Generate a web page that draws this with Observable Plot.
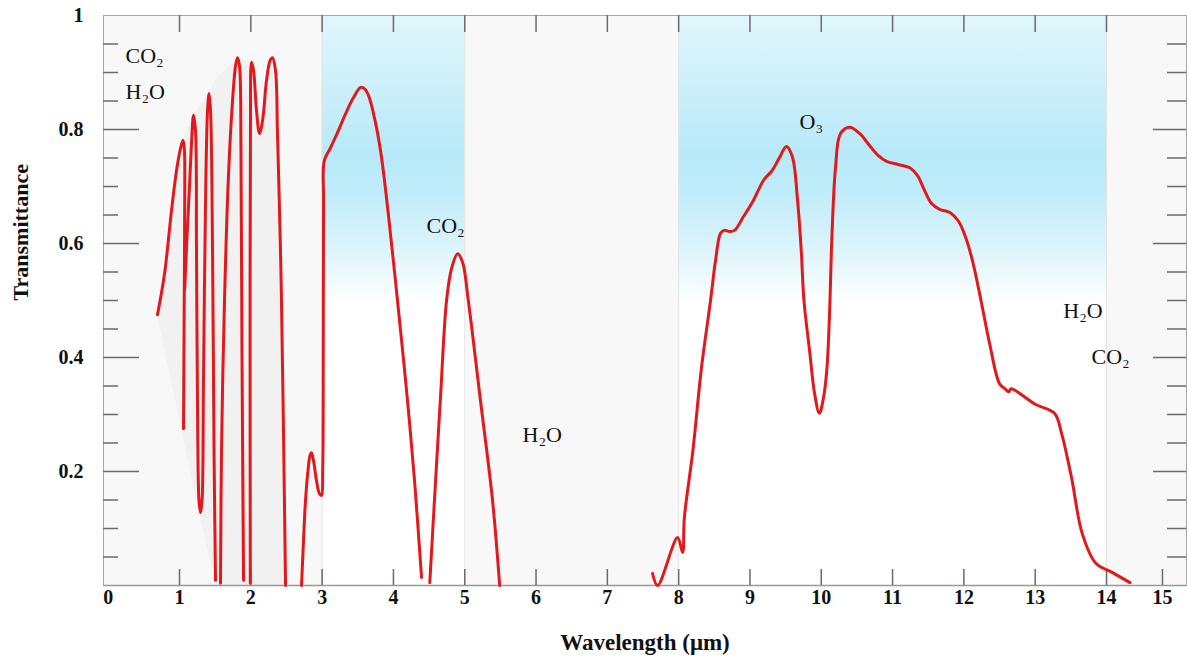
<!DOCTYPE html>
<html><head><meta charset="utf-8">
<script src="https://cdn.jsdelivr.net/npm/d3@7"></script>
<script src="https://cdn.jsdelivr.net/npm/@observablehq/plot@0.6"></script>
<style>body{margin:0;background:#fff}</style>
</head><body><div id="chart"></div>
<script>
// ---- data: transmittance curve segments [wavelength µm, transmittance] ----
const segA = [[0.691,0.475],[0.79,0.547],[0.888,0.658],[0.958,0.728],[1.014,0.767],[1.049,0.781],[1.068,0.765],[1.074,0.70],[1.066,0.5],[1.056,0.275]];
const segB = [[1.073,0.52],[1.108,0.62],[1.14,0.70],[1.17,0.78],[1.196,0.825],[1.224,0.798],[1.238,0.588],[1.252,0.325],[1.273,0.149],[1.294,0.128],[1.316,0.149],[1.336,0.36],[1.365,0.675],[1.393,0.833],[1.414,0.863],[1.435,0.833],[1.463,0.588],[1.484,0.237],[1.505,0.009]];
const segC = [[1.575,0.004],[1.589,0.237],[1.631,0.5],[1.688,0.723],[1.744,0.851],[1.786,0.912],[1.813,0.926],[1.841,0.912],[1.862,0.763],[1.876,0.412],[1.898,0.009]];
const segD = [[1.993,0.004],[1.99,0.4],[1.995,0.8],[2.01,0.918],[2.038,0.904],[2.08,0.833],[2.122,0.793],[2.165,0.816],[2.22,0.886],[2.27,0.921],[2.304,0.926],[2.346,0.904],[2.374,0.793],[2.416,0.588],[2.43,0.5],[2.458,0.272],[2.487,0.0]];
const segE = [[2.711,0],[2.739,0.079],[2.767,0.149],[2.802,0.202],[2.83,0.228],[2.851,0.233],[2.879,0.219],[2.921,0.184],[2.963,0.161],[2.992,0.158],[3.008,0.2],[3.016,0.412],[3.02,0.675],[3.03,0.745],[3.118,0.768],[3.21,0.793],[3.33,0.828],[3.44,0.856],[3.54,0.874],[3.6,0.871],[3.65,0.86],[3.721,0.828],[3.819,0.763],[3.931,0.649],[4.057,0.5],[4.184,0.342],[4.296,0.184],[4.394,0.014]];
const segF = [[4.51,0.005],[4.575,0.149],[4.66,0.33],[4.745,0.5],[4.815,0.556],[4.9,0.582],[4.97,0.567],[5.05,0.5],[5.22,0.325],[5.39,0.149],[5.49,0.0]];
const segG = [[7.634,0.021],[7.704,0.0],[7.985,0.084],[8.055,0.058],[8.08,0.119],[8.2,0.237],[8.32,0.382],[8.447,0.5],[8.517,0.57],[8.587,0.618],[8.638,0.623],[8.714,0.621],[8.784,0.623],[8.903,0.646],[9.046,0.675],[9.191,0.711],[9.311,0.728],[9.407,0.749],[9.513,0.77],[9.597,0.751],[9.668,0.675],[9.719,0.588],[9.757,0.5],[9.836,0.412],[9.906,0.337],[9.973,0.302],[10.032,0.33],[10.08,0.382],[10.114,0.47],[10.151,0.618],[10.2,0.733],[10.27,0.793],[10.4,0.804],[10.537,0.793],[10.677,0.772],[10.8,0.754],[10.916,0.744],[11.065,0.739],[11.252,0.732],[11.35,0.719],[11.449,0.693],[11.547,0.67],[11.66,0.66],[11.81,0.654],[11.925,0.639],[12.024,0.611],[12.12,0.57],[12.24,0.5],[12.36,0.425],[12.5,0.354],[12.57,0.346],[12.63,0.34],[12.66,0.345],[13.0,0.318],[13.27,0.302],[13.37,0.267],[13.51,0.189],[13.66,0.091],[13.85,0.039],[14.1,0.023],[14.42,0.005]];

// light grey shaded envelope at the left [wavelength, low, high]
const shade = [[0.691,0.475,0.475],[1.049,0.264,0.781],[1.196,0.176,0.825],[1.414,0.053,0.863],[1.53,0,0.89],[1.813,0,0.926],[2.01,0,0.918],[2.122,0,0.793],[2.304,0,0.926],[2.346,0,0.904],[2.43,0,0.5],[2.487,0,0]];

// atmospheric windows (blue bands)
const windowBands = [[3,5],[8,14]];
const bandEdges = [3,5,8,14];

// absorber annotations
const gasLabels = [
  {x:0.243, t:0.929, text:"CO₂"},
  {x:0.243, t:0.865, text:"H₂O"},
  {x:4.464, t:0.630, text:"CO₂"},
  {x:5.811, t:0.264, text:"H₂O"},
  {x:9.696, t:0.813, text:"O₃"},
  {x:13.394, t:0.482, text:"H₂O"},
  {x:13.79, t:0.401, text:"CO₂"}
];

// ticks
const xTickLabels = [0,1,2,3,4,5,6,7,8,9,10,11,12,13,14,15];
const topTicks = [1,2,3,4,5,6,7,8,9,10,11,12,13,14];
const bottomTicks = [1,2,3,4,5,6,7,8,9,10,11,12,13,14,15];
const yTickLabels = [0.2,0.4,0.6,0.8,1];
const yMajor = [0.2,0.4,0.6,0.8];
const yMinor = [0.05,0.1,0.15,0.25,0.3,0.35,0.45,0.5,0.55,0.65,0.7,0.75,0.85,0.9,0.95];

const segments = [segA, segB, segC, segD, segE, segF, segG];
const lineData = segments.flatMap((s, i) => s.map(([x, t]) => ({x, t, seg: i})));

const W = 1187, H = 664, mL = 103, mR = 1, mT = 15, mB = 79;
const fw = W - mL - mR, fh = H - mT - mB;

// the original axis is compressed beyond 14 µm
const compressAbove14 = d => d <= 14 ? d : 14 + (d - 14) * 0.785;

const gradStops = [[0,"#e0f6fc"],[0.12,"#cdf0fa"],[0.24,"#b8e9f8"],[0.3,"#bdebf9"],[0.4,"#d9f3fb"],[0.46,"#eefafd"],[0.5,"#fcfeff"],[0.52,"#ffffff"],[1,"#ffffff"]];
function gradientDefs() {
  const defs = d3.create("svg:defs");
  const g = defs.append("linearGradient").attr("id","bandGrad")
    .attr("x1",0).attr("y1",0).attr("x2",0).attr("y2",1);
  gradStops.forEach(([o,c]) => g.append("stop").attr("offset", o).attr("stop-color", c));
  return defs.node();
}

const serif = "'Liberation Serif','Times New Roman','DejaVu Serif',serif";
const tickColor = "#6a6a6a";

const chart = Plot.plot({
  width: W, height: H,
  marginLeft: mL, marginRight: mR, marginTop: mT, marginBottom: mB,
  style: {fontFamily: serif, background: "#fff"},
  x: {type: "linear", transform: compressAbove14, domain: [-0.066, 15.122], axis: null},
  y: {domain: [0, 1], axis: null},
  marks: [
    gradientDefs,
    Plot.frame({fill: "#f8f8f8", stroke: null}),
    Plot.rect(windowBands, {x1: d => d[0], x2: d => d[1], y1: 0, y2: 1, fill: "url(#bandGrad)"}),
    Plot.ruleX(bandEdges, {x: d => d, stroke: "#e4e4e4", strokeWidth: 1}),
    Plot.areaY(shade, {x: d => d[0], y1: d => d[1], y2: d => d[2], fill: "#f1f1f1"}),
    Plot.frame({stroke: "#a8a8a8", strokeWidth: 1}),
    Plot.ruleY([0], {stroke: "#999", strokeWidth: 1.5}),
    Plot.tickX(topTicks, {x: d => d, insetBottom: fh - 17, stroke: tickColor, strokeWidth: 1.5}),
    Plot.tickX(bottomTicks, {x: d => d, insetTop: fh - 16, stroke: tickColor, strokeWidth: 1.5}),
    Plot.tickY(yMajor, {y: d => d, insetRight: fw - 36, stroke: tickColor, strokeWidth: 1.5}),
    Plot.tickY(yMinor, {y: d => d, insetRight: fw - 15, stroke: tickColor, strokeWidth: 1.5}),
    Plot.tickY(yMajor, {y: d => d, insetLeft: fw - 33, stroke: tickColor, strokeWidth: 1.5}),
    Plot.tickY(yMinor, {y: d => d, insetLeft: fw - 19, stroke: tickColor, strokeWidth: 1.5}),
    Plot.line(lineData, {x: "x", y: "t", z: "seg", stroke: "#e2191c", strokeWidth: 3, curve: "catmull-rom", strokeLinecap: "round", strokeLinejoin: "round"}),
    Plot.text(gasLabels, {x: "x", y: "t", text: "text", textAnchor: "start", lineAnchor: "middle", fontSize: 22, fill: "#111"}),
    Plot.text(xTickLabels, {x: d => d, text: d => String(d), frameAnchor: "bottom", dy: 18, fontSize: 20, fontWeight: "bold", fill: "#111"}),
    Plot.text(yTickLabels, {y: d => d, text: d => d === 1 ? "1" : d.toFixed(1), frameAnchor: "left", dx: -20, textAnchor: "end", fontSize: 20, fontWeight: "bold", fill: "#111"}),
    Plot.text(["Transmittance"], {text: d => d, frameAnchor: "left", dx: -83, rotate: -90, fontSize: 22, fontWeight: "bold", fill: "#111"}),
    Plot.text(["Wavelength (μm)"], {text: d => d, frameAnchor: "bottom", dy: 64, fontSize: 23, fontWeight: "bold", fill: "#111"})
  ]
});
document.getElementById("chart").append(chart);
</script>
</body></html>
